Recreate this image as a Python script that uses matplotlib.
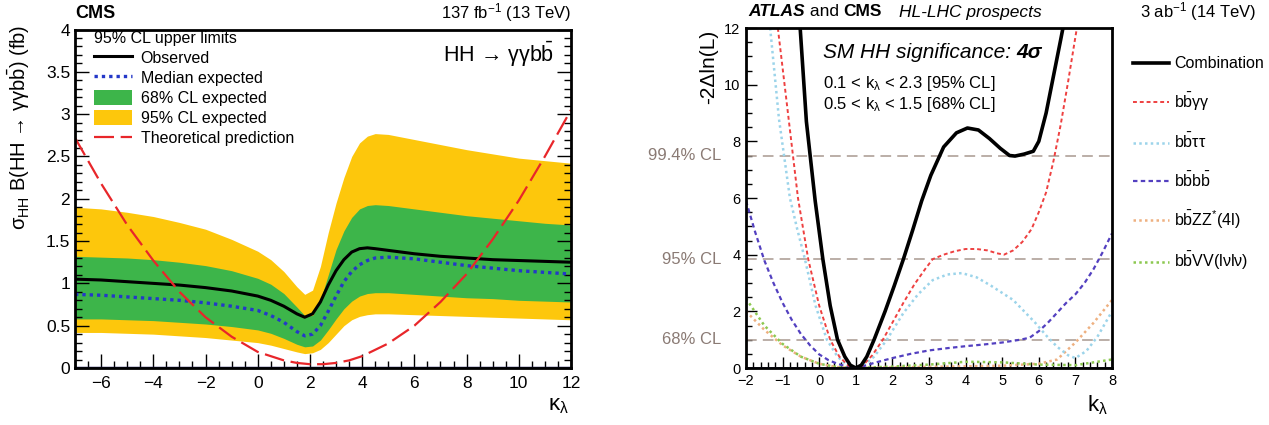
import matplotlib
matplotlib.use("Agg")
import matplotlib.pyplot as plt
from matplotlib.lines import Line2D
from matplotlib.patches import Patch
from matplotlib.ticker import MultipleLocator
import matplotlib.transforms as mtransforms

plt.rcParams['font.family'] = ['Liberation Sans', 'DejaVu Sans']
plt.rcParams['mathtext.fontset'] = 'custom'
plt.rcParams['mathtext.rm'] = 'Liberation Sans'
plt.rcParams['mathtext.it'] = 'Liberation Sans:italic'
plt.rcParams['mathtext.bf'] = 'Liberation Sans:bold'

# ---------------- Left panel data (CMS, HH -> gg bb) ----------------
kl_band = [-7, -6, -5, -4, -3, -2, -1, 0, 0.5, 1, 1.5, 1.8, 2.1, 2.4, 2.7, 3.0, 3.3,
           3.6, 3.9, 4.2, 4.5, 5, 6, 7, 8, 9, 10, 11, 12]
observed = [1.05, 1.04, 1.02, 1.00, 0.98, 0.95, 0.91, 0.85, 0.80, 0.73, 0.64, 0.60, 0.64,
            0.78, 0.98, 1.15, 1.28, 1.37, 1.41, 1.42, 1.41, 1.39, 1.35, 1.32, 1.30, 1.28,
            1.27, 1.26, 1.25]
median_exp = [0.87, 0.86, 0.84, 0.82, 0.80, 0.77, 0.73, 0.68, 0.62, 0.54, 0.43, 0.38, 0.40,
              0.50, 0.67, 0.85, 1.02, 1.14, 1.22, 1.27, 1.30, 1.31, 1.29, 1.25, 1.21, 1.18,
              1.15, 1.13, 1.11]
band68_hi = [1.32, 1.31, 1.30, 1.28, 1.25, 1.21, 1.15, 1.06, 0.99, 0.88, 0.72, 0.62, 0.62,
             0.80, 1.10, 1.40, 1.62, 1.78, 1.88, 1.92, 1.93, 1.92, 1.88, 1.84, 1.80, 1.77,
             1.74, 1.71, 1.69]
band68_lo = [0.58, 0.58, 0.57, 0.56, 0.54, 0.52, 0.49, 0.45, 0.41, 0.35, 0.28, 0.25, 0.26,
             0.33, 0.45, 0.58, 0.70, 0.79, 0.85, 0.88, 0.89, 0.89, 0.87, 0.85, 0.83, 0.82,
             0.80, 0.79, 0.78]
band95_hi = [1.90, 1.88, 1.84, 1.79, 1.72, 1.64, 1.52, 1.38, 1.28, 1.14, 0.96, 0.87, 0.92,
             1.20, 1.60, 1.95, 2.25, 2.50, 2.66, 2.74, 2.77, 2.76, 2.70, 2.64, 2.58, 2.53,
             2.48, 2.45, 2.42]
band95_lo = [0.42, 0.42, 0.41, 0.40, 0.38, 0.36, 0.33, 0.30, 0.27, 0.23, 0.19, 0.17, 0.18,
             0.22, 0.30, 0.40, 0.50, 0.57, 0.61, 0.63, 0.64, 0.64, 0.63, 0.62, 0.61, 0.60,
             0.59, 0.58, 0.57]
kl_theory = [-7, -6, -5, -4, -3, -2, -1, 0, 1, 1.5, 2, 2.5, 3, 3.5, 4, 5, 6, 7, 8, 9, 10, 11, 12]
theory = [2.72, 2.18, 1.69, 1.27, 0.90, 0.60, 0.37, 0.19, 0.09, 0.06, 0.045, 0.045, 0.06,
          0.09, 0.14, 0.29, 0.50, 0.78, 1.11, 1.52, 1.98, 2.50, 3.05]

# ---------------- Right panel data (HL-LHC prospects) ----------------
comb_x = [-0.52, -0.35, -0.11, 0.1, 0.3, 0.5, 0.7, 0.85, 1.0, 1.15, 1.3, 1.5, 1.8, 2.05,
          2.3, 2.55, 2.8, 3.05, 3.4, 3.75, 4.05, 4.35, 4.65, 4.95, 5.2, 5.35, 5.6, 5.85,
          6.0, 6.2, 6.4, 6.6, 6.66]
comb_y = [12, 8.7, 5.9, 3.84, 2.2, 1.0, 0.4, 0.1, 0.0, 0.1, 0.4, 1.0, 2.0, 2.9, 3.84,
          4.85, 5.9, 6.8, 7.8, 8.3, 8.47, 8.4, 8.1, 7.75, 7.5, 7.48, 7.55, 7.65, 8.0, 9.0,
          10.3, 11.6, 12]
bbgg_x = [-1.13, -0.9, -0.58, -0.3, 0.0, 0.3, 0.55, 0.8, 1.0, 1.2, 1.45, 1.74, 2.0, 2.3,
          2.6, 2.9, 3.1, 3.4, 3.7, 4.0, 4.3, 4.6, 4.85, 5.05, 5.3, 5.55, 5.8, 6.0, 6.2,
          6.4, 6.6, 6.8, 7.04]
bbgg_y = [12, 9.5, 6.0, 3.84, 2.2, 1.0, 0.4, 0.08, 0.0, 0.1, 0.45, 1.0, 1.6, 2.3, 2.95,
          3.5, 3.84, 4.0, 4.12, 4.2, 4.2, 4.15, 4.05, 4.0, 4.15, 4.45, 4.9, 5.5, 6.2,
          7.3, 8.6, 10.1, 12]
bbtt_x = [-1.34, -1.1, -0.8, -0.6, -0.39, -0.1, 0.21, 0.5, 0.8, 1.0, 1.2, 1.5, 1.85, 2.3,
          2.7, 3.1, 3.5, 3.9, 4.3, 4.7, 5.0, 5.3, 5.6, 5.9, 6.2, 6.5, 6.8, 7.0, 7.3, 7.6, 8.0]
bbtt_y = [12, 8.8, 6.0, 4.9, 3.84, 2.2, 1.0, 0.4, 0.06, 0.0, 0.08, 0.4, 1.0, 1.94, 2.6,
          3.1, 3.3, 3.35, 3.2, 2.9, 2.65, 2.4, 2.0, 1.6, 1.15, 0.75, 0.45, 0.35, 0.6, 1.1, 2.0]
bbbb_x = [-2, -1.75, -1.5, -1.25, -1.0, -0.75, -0.5, -0.25, 0, 0.25, 0.5, 0.75, 1.0, 1.25,
          1.5, 2.0, 2.5, 3.0, 3.5, 4.0, 4.5, 5.0, 5.5, 5.75, 6.0, 6.25, 6.5, 6.75, 7.0,
          7.25, 7.5, 7.75, 8.0]
bbbb_y = [5.9, 4.8, 3.8, 3.0, 2.3, 1.7, 1.2, 0.8, 0.48, 0.28, 0.15, 0.05, 0.0, 0.08, 0.18,
          0.35, 0.5, 0.62, 0.7, 0.77, 0.83, 0.9, 1.0, 1.07, 1.3, 1.6, 1.95, 2.3, 2.6, 3.0,
          3.5, 4.1, 4.75]
bbzz_x = [-2, -1.5, -1, -0.5, 0, 0.5, 1, 2, 3, 4, 5, 6, 6.5, 7, 7.5, 8]
bbzz_y = [2.0, 1.35, 0.8, 0.4, 0.15, 0.03, 0.0, 0.02, 0.04, 0.06, 0.08, 0.15, 0.3, 0.9,
          1.6, 2.4]
bbvv_x = [-2, -1.5, -1, -0.5, 0, 0.5, 1, 2, 3, 4, 5, 6, 7, 8]
bbvv_y = [2.45, 1.5, 0.85, 0.4, 0.15, 0.03, 0.0, 0.05, 0.12, 0.22, 0.2, 0.12, 0.1, 0.3]
cl_levels = [7.5, 3.84, 1.0]
cl_labels = ['99.4% CL', '95% CL', '68% CL']

W, H = 1269, 425
fig = plt.figure(figsize=(W / 100, H / 100), dpi=100)

def fx(px):
    return px / W

def fy(py):
    return 1 - py / H

# ======================= Left panel =======================
axL = fig.add_axes([fx(75), fy(368), fx(571) - fx(75), fy(29.5) - fy(368)])
c_yel = '#fdc70c'
c_grn = '#3db54a'
axL.fill_between(kl_band, band95_lo, band95_hi, color=c_yel, lw=0)
axL.fill_between(kl_band, band68_lo, band68_hi, color=c_grn, lw=0)
axL.plot(kl_band, observed, color='black', lw=2.2)
axL.plot(kl_band, median_exp, color='#2438c8', lw=2.4, ls=(0, (1, 1.2)))
axL.plot(kl_theory, theory, color='#e8262a', lw=1.6, ls=(0, (9, 3)))
axL.axhline(0, color='#1c1c60', lw=2.5)
axL.set_xlim(-7, 12)
axL.set_ylim(0, 4)
axL.xaxis.set_major_locator(MultipleLocator(2))
axL.xaxis.set_minor_locator(MultipleLocator(0.5))
axL.yaxis.set_major_locator(MultipleLocator(0.5))
axL.yaxis.set_minor_locator(MultipleLocator(0.1))
axL.set_yticks([0, 0.5, 1, 1.5, 2, 2.5, 3, 3.5, 4])
axL.set_yticklabels(['0', '0.5', '1', '1.5', '2', '2.5', '3', '3.5', '4'])
axL.set_xticks([-6, -4, -2, 0, 2, 4, 6, 8, 10, 12])
axL.set_xticklabels(['\u22126', '\u22124', '\u22122', '0', '2', '4', '6', '8', '10', '12'])
axL.tick_params(which='both', direction='in', top=False, right=True, labelsize=12.5, width=1)
axL.tick_params(which='major', length=10)
axL.tick_params(which='minor', length=5)
axL.tick_params(axis='x', pad=6)
for s in axL.spines.values():
    s.set_linewidth(2)

handles = [Line2D([], [], color='black', lw=2.2),
           Line2D([], [], color='#2438c8', lw=2.4, ls=(0, (1, 1.2))),
           Patch(color=c_grn, lw=0),
           Patch(color=c_yel, lw=0),
           Line2D([], [], color='#e8262a', lw=1.6, ls=(0, (9, 3)))]
labels = ['Observed', 'Median expected', '68% CL expected', '95% CL expected',
          'Theoretical prediction']
leg = axL.legend(handles, labels, title='95% CL upper limits', loc='upper left',
                 bbox_to_anchor=(0.018, 1.025), frameon=False, fontsize=11.5,
                 title_fontsize=11.5, alignment='left', handlelength=2.4,
                 handleheight=1.1, labelspacing=0.25, handletextpad=0.55,
                 borderaxespad=0.2)

axL.text(0.965, 0.925, 'HH \u2192 \u03b3\u03b3b' + r'$\mathrm{\bar{b}}$', transform=axL.transAxes,
         ha='right', va='center', fontsize=15.5)
fig.text(fx(75), fy(13), 'CMS', fontweight='bold', fontsize=13, ha='left', va='center')
fig.text(fx(571), fy(13), r'137 fb$^{-1}$ (13 TeV)', fontsize=12, ha='right', va='center')
fig.text(fx(19), fy(25),
         r'$\mathrm{\sigma}_{\mathrm{HH}}$ B(HH' + ' \u2192 \u03b3\u03b3b' + r'$\mathrm{\bar{b}}$) (fb)',
         rotation=90, fontsize=14.5, ha='center', va='top')
fig.text(fx(558), fy(405), r'$\mathrm{\kappa}_{\mathrm{\lambda}}$', fontsize=16, ha='center', va='center')

# ======================= Right panel =======================
axR = fig.add_axes([fx(746), fy(368), fx(1112) - fx(746), fy(28) - fy(368)])
cl_col = '#a8988f'
for lev in cl_levels:
    axR.axhline(lev, color=cl_col, lw=1.1, ls=(0, (7, 4)))
trR = mtransforms.blended_transform_factory(axR.transAxes, axR.transData)
for lev, lab in zip(cl_levels, cl_labels):
    axR.text(-0.068, lev, lab, transform=trR, ha='right', va='center', color='#8a7a74',
             fontsize=12)

l_zz, = axR.plot(bbzz_x, bbzz_y, color='#eeb080', lw=1.8, ls=(0, (1, 1.3)))
l_vv, = axR.plot(bbvv_x, bbvv_y, color='#8cc850', lw=1.8, ls=(0, (1, 1.3)))
l_tt, = axR.plot(bbtt_x, bbtt_y, color='#9cd4ea', lw=1.8, ls=(0, (1, 1.3)))
l_bb, = axR.plot(bbbb_x, bbbb_y, color='#5340c0', lw=1.6, ls=(0, (2, 1.5)))
l_gg, = axR.plot(bbgg_x, bbgg_y, color='#ee4040', lw=1.4, ls=(0, (2, 1.5)))
l_cb, = axR.plot(comb_x, comb_y, color='black', lw=2.6)
axR.axhline(0, color='#2a2a70', lw=2.0)

axR.set_xlim(-2, 8)
axR.set_ylim(0, 12)
axR.xaxis.set_major_locator(MultipleLocator(1))
axR.xaxis.set_minor_locator(MultipleLocator(0.2))
axR.yaxis.set_major_locator(MultipleLocator(2))
axR.yaxis.set_minor_locator(MultipleLocator(0.5))
axR.set_xticks(list(range(-2, 9)))
axR.set_xticklabels(['\u22122', '\u22121', '0', '1', '2', '3', '4', '5', '6', '7', '8'])
axR.tick_params(which='both', direction='in', labelsize=10.5, width=1)
axR.tick_params(which='major', length=8)
axR.tick_params(which='minor', length=4)
axR.tick_params(axis='x', pad=4)
axR.tick_params(axis='y', pad=4)
for s in axR.spines.values():
    s.set_linewidth(2)

tsm = axR.text(0.21, 11.15, 'SM HH significance: ', ha='left', va='center',
               fontsize=15, style='italic', transform=trR)
axR.annotate('4\u03c3', xy=(1, 0.5), xycoords=tsm, xytext=(0, 0), textcoords='offset points',
             ha='left', va='center', fontsize=15, style='italic', fontweight='bold',
             annotation_clip=False)
axR.text(0.21, 10.05, r'0.1 < k$_{\mathrm{\lambda}}$ < 2.3 [95% CL]', ha='left', va='center',
         fontsize=12, transform=trR)
axR.text(0.21, 9.3, r'0.5 < k$_{\mathrm{\lambda}}$ < 1.5 [68% CL]', ha='left', va='center',
         fontsize=12, transform=trR)

fig.text(fx(709), fy(30), '-2\u0394ln(L)', rotation=90, fontsize=15, ha='center', va='top')
fig.text(fx(1097), fy(405), r'k$_{\mathrm{\lambda}}$', fontsize=16, ha='center', va='center')

t1 = fig.text(fx(748), fy(12), 'ATLAS', fontweight='bold', style='italic', fontsize=12.5,
              ha='left', va='center')
ann2 = axR.annotate(' and ', xy=(1, 0.5), xycoords=t1, xytext=(0, 0), textcoords='offset points',
                    ha='left', va='center', fontsize=12.5, annotation_clip=False)
ann3 = axR.annotate('CMS', xy=(1, 0.5), xycoords=ann2, xytext=(0, 0), textcoords='offset points',
                    ha='left', va='center', fontsize=12.5, fontweight='bold', annotation_clip=False)
axR.annotate('HL-LHC prospects', xy=(1, 0.5), xycoords=ann3, xytext=(12, 0),
             textcoords='offset points', ha='left', va='center', fontsize=12.5,
             style='italic', annotation_clip=False)
fig.text(fx(1140), fy(12), r'3 ab$^{-1}$ (14 TeV)', fontsize=12, ha='left', va='center')

leg_handles = [l_cb, l_gg, l_tt, l_bb, l_zz, l_vv]
leg_labels = ['Combination', r'$\mathrm{b\bar{b}\gamma\gamma}$', r'$\mathrm{b\bar{b}\tau\tau}$',
              r'$\mathrm{b\bar{b}b\bar{b}}$', r'$\mathrm{b\bar{b}ZZ^{*}(4l)}$',
              r'$\mathrm{b\bar{b}VV(l\nu l\nu)}$']
fig.legend(leg_handles, leg_labels, loc='upper left', bbox_to_anchor=(fx(1127), fy(50)),
           frameon=False, fontsize=11.5, handlelength=2.2, labelspacing=1.21,
           handletextpad=0.35, borderaxespad=0)

fig.savefig('out.png', dpi=100, facecolor='white')
